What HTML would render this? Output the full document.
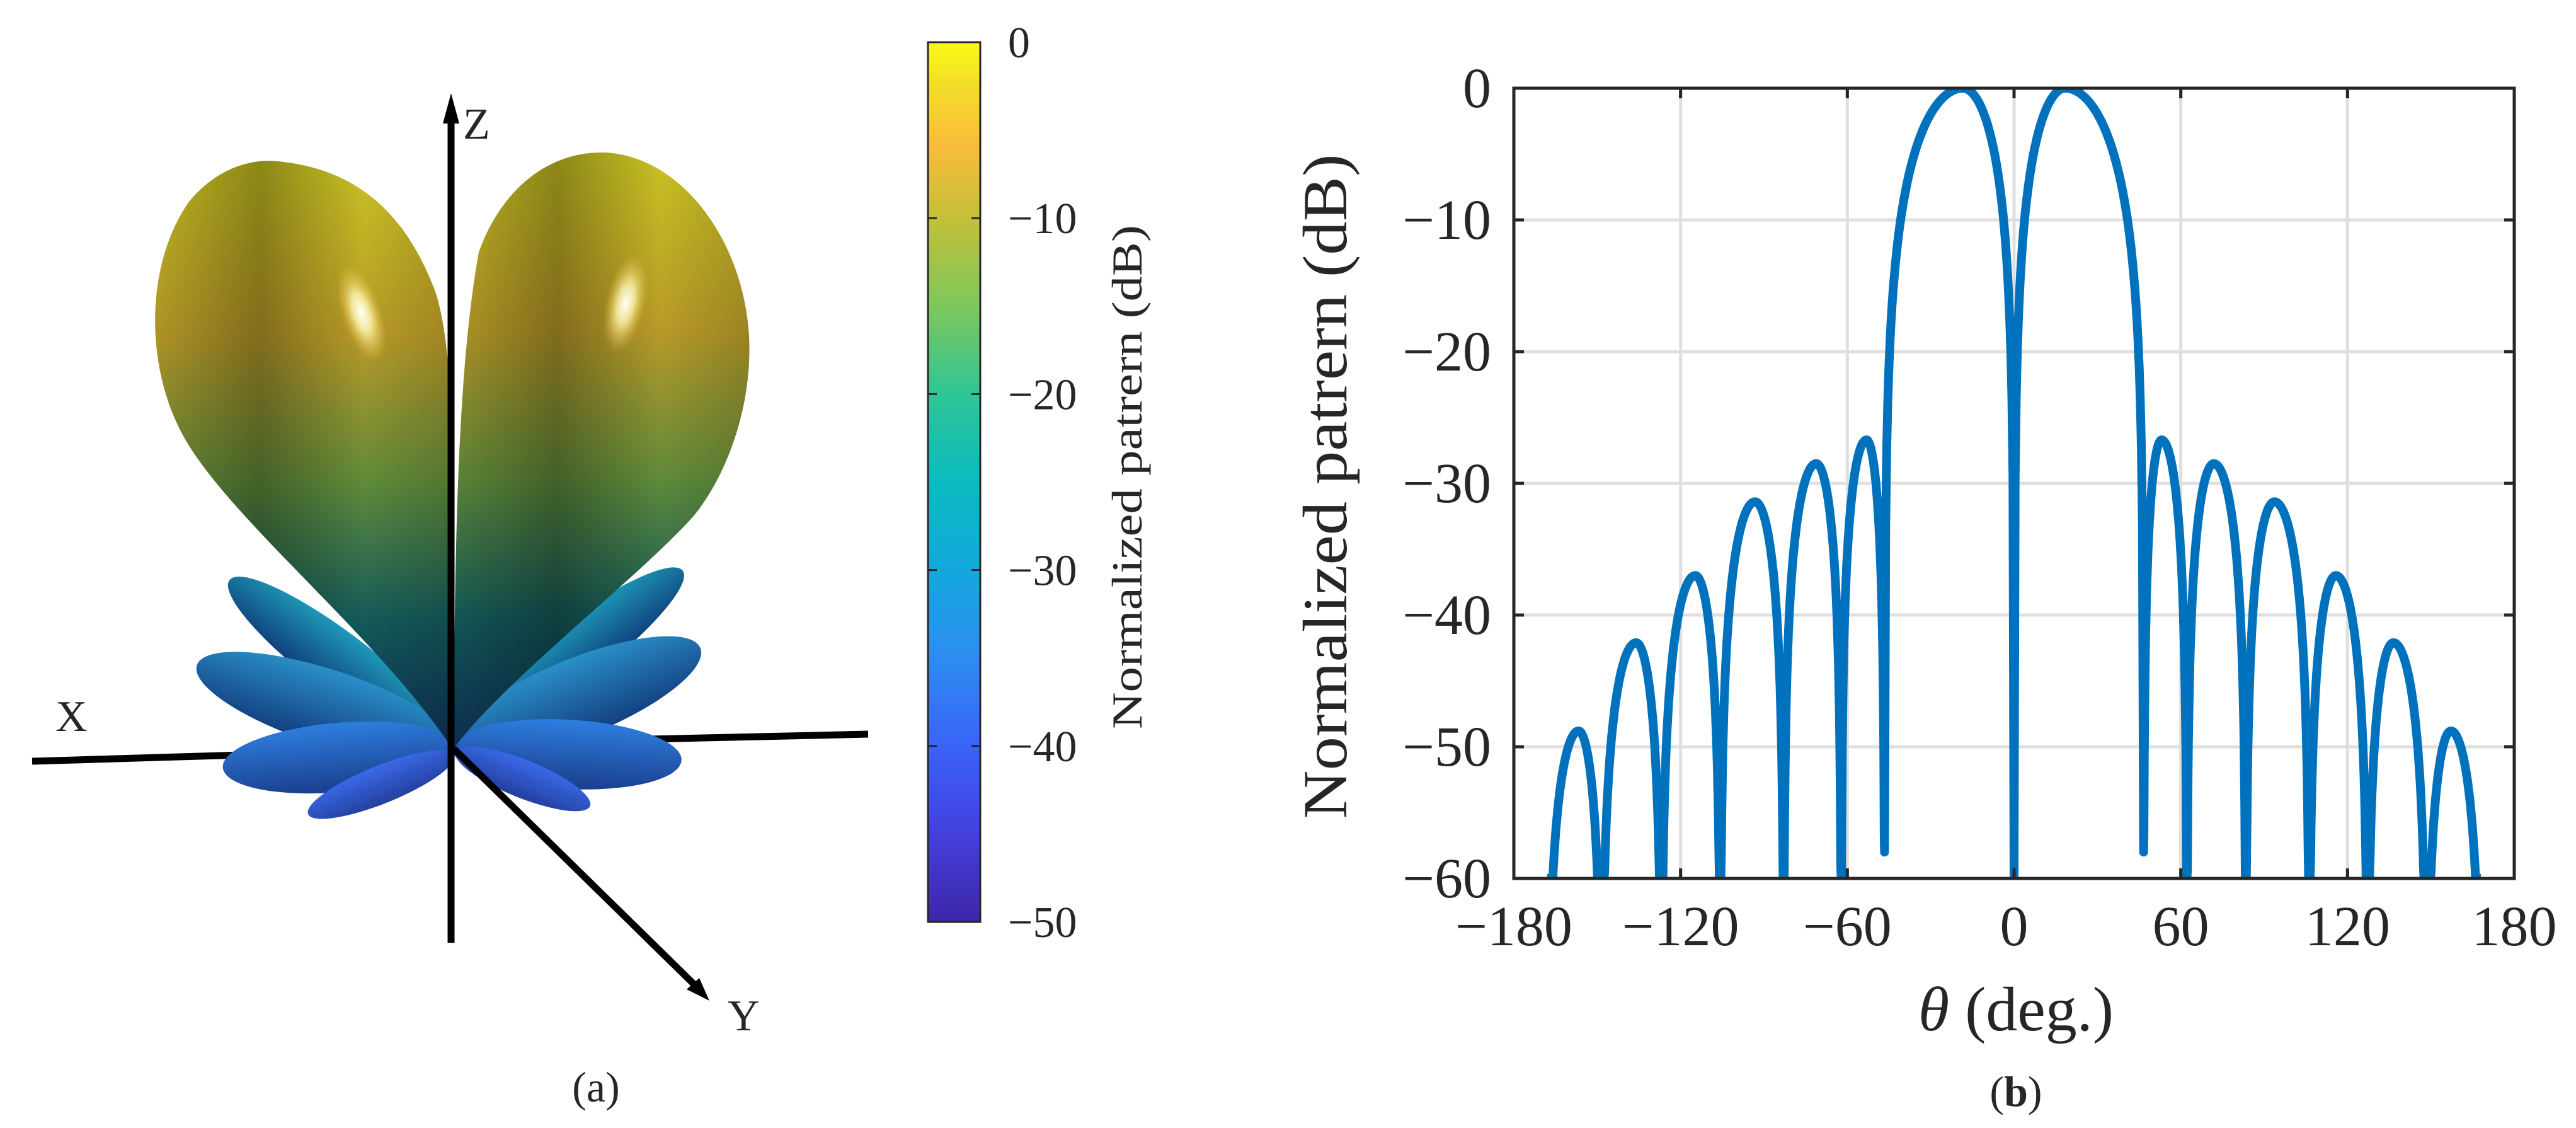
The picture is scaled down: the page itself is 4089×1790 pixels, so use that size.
<!DOCTYPE html>
<html><head><meta charset="utf-8"><style>
html,body{margin:0;padding:0;background:#fff;}
svg{display:block;}
text{font-family:"Liberation Serif",serif;fill:#262626;}
</style></head><body>
<svg id="fig" width="4089" height="1790" viewBox="0 0 4089 1790" xmlns="http://www.w3.org/2000/svg">
<defs>
<linearGradient id="parula" x1="0" y1="1" x2="0" y2="0">
<stop offset="0" stop-color="#3e26a8"/><stop offset="0.1" stop-color="#4340de"/><stop offset="0.2" stop-color="#3a63f8"/>
<stop offset="0.3" stop-color="#2d8cf0"/><stop offset="0.4" stop-color="#13a8dc"/><stop offset="0.5" stop-color="#0bbbbf"/>
<stop offset="0.6" stop-color="#2fc595"/><stop offset="0.7" stop-color="#7ec75c"/><stop offset="0.8" stop-color="#c3c039"/>
<stop offset="0.88" stop-color="#f9bb3c"/><stop offset="0.95" stop-color="#f4dc2a"/><stop offset="1" stop-color="#f9fb14"/>
</linearGradient>
<linearGradient id="lobeL" x1="0" y1="0" x2="0" y2="1">
<stop offset="0" stop-color="#c8c222"/><stop offset="0.3" stop-color="#b89a28"/><stop offset="0.55" stop-color="#5f8a3a"/>
<stop offset="0.78" stop-color="#135a5a"/><stop offset="1" stop-color="#0d2f55"/>
</linearGradient>
<linearGradient id="shadeL" x1="0" y1="0" x2="1" y2="0">
<stop offset="0" stop-color="#000" stop-opacity="0.05"/><stop offset="0.35" stop-color="#000" stop-opacity="0.3"/>
<stop offset="0.7" stop-color="#000" stop-opacity="0"/><stop offset="1" stop-color="#000" stop-opacity="0.15"/>
</linearGradient>
<radialGradient id="hl"><stop offset="0" stop-color="#fff" stop-opacity="1"/><stop offset="0.4" stop-color="#fff7b0" stop-opacity="0.8"/><stop offset="1" stop-color="#f0c040" stop-opacity="0"/></radialGradient>
<linearGradient id="petal1" x1="0" y1="0" x2="0" y2="1"><stop offset="0" stop-color="#1e9ab8"/><stop offset="1" stop-color="#0f3e7a"/></linearGradient>
<linearGradient id="petal2" x1="0" y1="0" x2="0" y2="1"><stop offset="0" stop-color="#2a8fc8"/><stop offset="1" stop-color="#133f80"/></linearGradient>
<linearGradient id="petal3" x1="0" y1="0" x2="0" y2="1"><stop offset="0" stop-color="#2e7ee0"/><stop offset="1" stop-color="#1a3e8c"/></linearGradient>
<linearGradient id="petal4" x1="0" y1="0" x2="0" y2="1"><stop offset="0" stop-color="#3a6ae8"/><stop offset="1" stop-color="#2440a0"/></linearGradient>
<clipPath id="axclip"><rect x="2403" y="140" width="1588" height="1254"/></clipPath>
</defs>

<g>
  <line x1="51" y1="1208" x2="720" y2="1188" stroke="#000" stroke-width="11"/>
  <line x1="720" y1="1180" x2="1378" y2="1165" stroke="#000" stroke-width="11"/>
  <g>
    <ellipse cx="536" cy="1050" rx="215" ry="48" transform="rotate(37 536 1050)" fill="url(#petal1)"/>
    <ellipse cx="900" cy="1044" rx="230" ry="48" transform="rotate(-37 900 1044)" fill="url(#petal1)"/>
    <ellipse cx="517" cy="1122" rx="215" ry="60" transform="rotate(18 517 1122)" fill="url(#petal2)"/>
    <ellipse cx="917" cy="1107" rx="210" ry="62" transform="rotate(-22 917 1107)" fill="url(#petal2)"/>
    <ellipse cx="538" cy="1202" rx="185" ry="55" transform="rotate(-5 538 1202)" fill="url(#petal3)"/>
    <ellipse cx="900" cy="1197" rx="182" ry="55" transform="rotate(3 900 1197)" fill="url(#petal3)"/>
    <ellipse cx="605" cy="1245" rx="125" ry="30" transform="rotate(-22 605 1245)" fill="url(#petal4)"/>
    <ellipse cx="830" cy="1236" rx="115" ry="30" transform="rotate(22 830 1236)" fill="url(#petal4)"/>
  </g>
  <g>
    <path d="M718 1188 C 600 1010 360 820 290 690 C 230 580 230 420 300 320 C 350 260 410 250 450 257 C 560 270 640 330 690 460 C 725 560 722 800 718 1188 Z" fill="url(#lobeL)"/>
    <path d="M718 1188 C 600 1010 360 820 290 690 C 230 580 230 420 300 320 C 350 260 410 250 450 257 C 560 270 640 330 690 460 C 725 560 722 800 718 1188 Z" fill="url(#shadeL)"/>
    <ellipse cx="574" cy="497" rx="32" ry="80" transform="rotate(-18 574 497)" fill="url(#hl)"/>
  </g>
  <g>
    <path d="M720 1188 C 722 900 724 600 760 400 C 800 290 880 240 958 242 C 1080 246 1180 380 1189 533 C 1195 650 1150 760 1100 820 C 1010 920 800 1080 720 1188 Z" fill="url(#lobeL)"/>
    <path d="M720 1188 C 722 900 724 600 760 400 C 800 290 880 240 958 242 C 1080 246 1180 380 1189 533 C 1195 650 1150 760 1100 820 C 1010 920 800 1080 720 1188 Z" fill="url(#shadeL)"/>
    <ellipse cx="993" cy="482" rx="32" ry="80" transform="rotate(12 993 482)" fill="url(#hl)"/>
  </g>
  <line x1="716" y1="190" x2="716" y2="1496" stroke="#000" stroke-width="11"/>
  <polygon points="716,148 703,196 729,196" fill="#000"/>
  <line x1="720" y1="1188" x2="1115" y2="1575" stroke="#000" stroke-width="11"/>
  <polygon points="1126,1588 1090,1570 1110,1552" fill="#000"/>
  <text x="735" y="220" font-size="70">Z</text>
  <text x="88" y="1160" font-size="70">X</text>
  <text x="1155" y="1635" font-size="70">Y</text>
  <text x="946" y="1748" font-size="68" text-anchor="middle">(a)</text>
</g>

<g>
  <rect x="1473" y="67" width="83" height="1396" fill="url(#parula)" stroke="#262626" stroke-width="3"/>
  <g id="cbticks"></g>
  <text transform="translate(1812 757) rotate(-90)" font-size="68" text-anchor="middle" textLength="800" lengthAdjust="spacingAndGlyphs">Normalized patrern (dB)</text>
</g>

<g>
  <g id="grid"></g>
  <g id="curve" clip-path="url(#axclip)"></g>
  <rect x="2403" y="140" width="1588" height="1254" fill="none" stroke="#262626" stroke-width="5"/>
  <g id="ticks"></g>
  <text transform="translate(2137 772) rotate(-90)" font-size="100" text-anchor="middle" textLength="1055" lengthAdjust="spacingAndGlyphs">Normalized patrern  (dB)</text>
  <text x="3200" y="1635" font-size="100" text-anchor="middle"><tspan font-style="italic">θ</tspan> (deg.)</text>
  <text x="3200" y="1755" font-size="68" text-anchor="middle">(<tspan font-weight="bold">b</tspan>)</text>
</g>
</svg>
<script>
const xTicks = [-180, -120, -60, 0, 60, 120, 180];
const yTicks = [0, -10, -20, -30, -40, -50, -60];
const cbTicks = [0, -10, -20, -30, -40, -50];
const lobePeakTheta = [-156.7, -136, -114.7, -93.2, -71.2, -53.1, -18.4, 18.4, 53.1, 71.9, 93.7, 115.8, 136.5, 157.2];
const lobePeakDb = [-48.8, -42.1, -37, -31.4, -28.5, -26.7, 0, 0, -26.7, -28.5, -31.4, -37, -42.1, -48.8];
const nullTheta = [-168, -148.4, -126.9, -105.7, -82.9, -62.2, -46.6, 0, 46.6, 62.2, 83.4, 106.2, 127.2, 148.4, 168];
const nullDb = [-60, -60, -60, -60, -60, -60, -58, -60, -58, -60, -60, -60, -60, -60, -60];

const NS = "http://www.w3.org/2000/svg";
const X0 = 2403, X1 = 3991, Y0 = 140, Y1 = 1394;
function xs(t) { return X0 + (t + 180) / 360 * (X1 - X0); }
function ys(d) { return Y0 + (0 - d) / 60 * (Y1 - Y0); }
function cby(d) { return 67 + (0 - d) / 50 * 1396; }
function mk(tag, attrs, parent) {
  const e = document.createElementNS(NS, tag);
  for (const k in attrs) e.setAttribute(k, attrs[k]);
  parent.appendChild(e);
  return e;
}
const grid = document.getElementById('grid');
const ticks = document.getElementById('ticks');
xTicks.forEach(t => {
  if (t > -180 && t < 180) {
    const g = mk('line', {x1: xs(t), x2: xs(t), y1: Y0, y2: Y1, stroke: '#dfdfdf', 'stroke-width': 5}, grid);
    
    
  }
  const a = mk('line', {x1: xs(t), x2: xs(t), y1: Y1, y2: Y1 - 16, stroke: '#262626', 'stroke-width': 5}, ticks);
  
  
  const b = mk('line', {x1: xs(t), x2: xs(t), y1: Y0, y2: Y0 + 16, stroke: '#262626', 'stroke-width': 5}, ticks);
  
  
  const tx = mk('text', {x: xs(t), y: 1500, 'font-size': 90, 'text-anchor': 'middle'}, ticks);
  tx.textContent = (t < 0 ? '\u2212' : '') + Math.abs(t);
  
  
});
yTicks.forEach(d => {
  if (d < 0 && d > -60) {
    const g = mk('line', {x1: X0, x2: X1, y1: ys(d), y2: ys(d), stroke: '#dfdfdf', 'stroke-width': 5}, grid);
    
    
  }
  const a = mk('line', {x1: X0, x2: X0 + 16, y1: ys(d), y2: ys(d), stroke: '#262626', 'stroke-width': 5}, ticks);
  
  
  const b = mk('line', {x1: X1, x2: X1 - 16, y1: ys(d), y2: ys(d), stroke: '#262626', 'stroke-width': 5}, ticks);
  
  
  const tx = mk('text', {x: 2367, y: ys(d) + 30, 'font-size': 90, 'text-anchor': 'end'}, ticks);
  tx.textContent = (d < 0 ? '\u2212' : '') + Math.abs(d);
  
  
});
const cbt = document.getElementById('cbticks');
cbTicks.forEach(d => {
  const a = mk('line', {x1: 1473, x2: 1487, y1: cby(d), y2: cby(d), stroke: '#262626', 'stroke-width': 3}, cbt);
  
  
  const b = mk('line', {x1: 1556, x2: 1542, y1: cby(d), y2: cby(d), stroke: '#262626', 'stroke-width': 3}, cbt);
  
  
  const tx = mk('text', {x: 1600, y: cby(d) + 24, 'font-size': 70}, cbt);
  tx.textContent = (d < 0 ? '\u2212' : '') + Math.abs(d);
  
  
});
let pts = [];
for (let i = 0; i < lobePeakTheta.length; i++) {
  const nL = nullTheta[i], nR = nullTheta[i + 1], p = lobePeakTheta[i], pk = lobePeakDb[i];
  const N = 120;
  for (let k = 0; k <= N; k++) {
    const th = nL + (nR - nL) * k / N;
    let t = th <= p ? 0.5 * (th - nL) / (p - nL) : 0.5 + 0.5 * (th - p) / (nR - p);
    const s = Math.max(Math.sin(Math.PI * t), 1e-6);
    let d = pk + 20 * Math.log10(s);
    const floor = t < 0.5 ? nullDb[i] : nullDb[i + 1];
    if (d < floor) d = floor;
    pts.push(xs(th).toFixed(1) + ',' + ys(d).toFixed(1));
  }
}
const line = mk('polyline', {points: pts.join(' '), fill: 'none', stroke: '#0072BD', 'stroke-width': 14, 'stroke-linejoin': 'round'}, document.getElementById('curve'));


</script>
</body></html>
